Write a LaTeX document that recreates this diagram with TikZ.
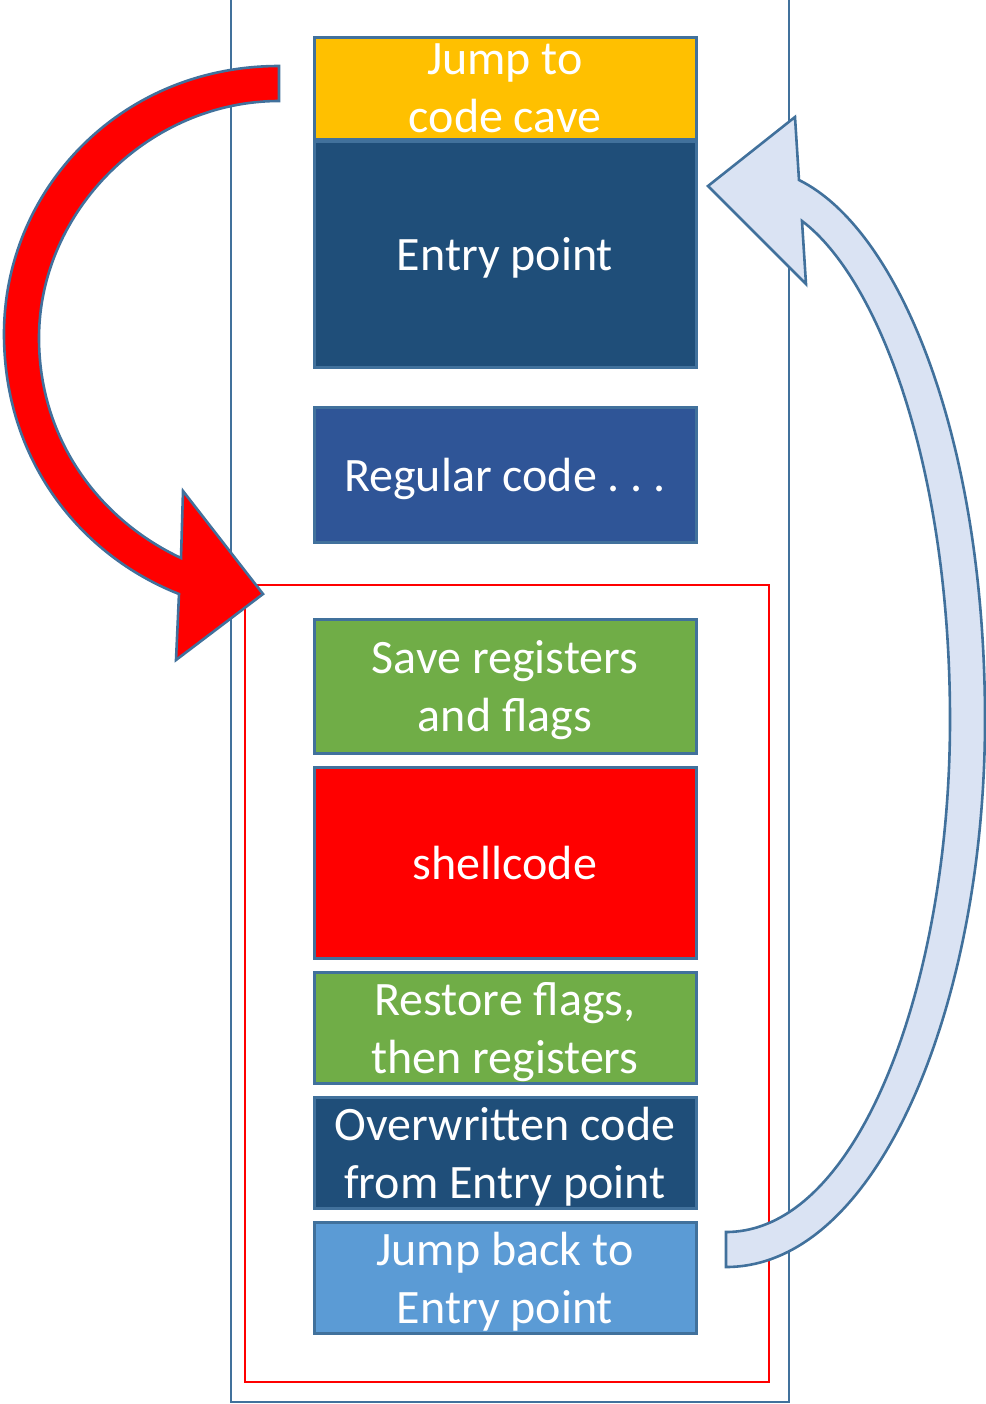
\documentclass[tikz,border=0pt]{standalone}
\usepackage{fontspec}
\setmainfont{Carlito}
\usepackage{xcolor}
\usepackage{tikz}
\usetikzlibrary{positioning,calc}
\definecolor{edgeblue}{HTML}{41719C}
\definecolor{caveorange}{HTML}{FFC000}
\definecolor{entryblue}{HTML}{1F4E79}
\definecolor{regblue}{HTML}{2F5597}
\definecolor{flaggreen}{HTML}{70AD47}
\definecolor{backblue}{HTML}{5B9BD5}
\definecolor{paleblue}{HTML}{DAE3F3}

\begin{document}
\begin{tikzpicture}[x=0.5pt,y=-0.5pt,
    block/.style={rectangle, draw=edgeblue, line width=1.5pt, minimum width=191pt, inner sep=0pt, align=center, text=white, text depth=0pt, font=\fontsize{24}{29}\selectfont},
    bigarrow/.style={draw=edgeblue, line width=1.3pt, line join=miter}]
    \useasboundingbox (0,0) rectangle (986,1404);

    % memory column and code cave
    \draw[edgeblue, line width=1pt] (231,0) -- (231,1402) -- (789,1402) -- (789,0);
    \draw[red, line width=1pt] (245,585) rectangle (769,1382);

    \node [block, fill=caveorange, minimum height=51pt] (cave) at (505,88) {Jump to\\code cave};
    \node [block, fill=entryblue, minimum height=113pt] (entry) at (505,254) {Entry point};
    \node [block, fill=regblue, minimum height=67.5pt] (regular) at (505,474.5) {Regular code .\ .\ .};
    \node [block, fill=flaggreen, minimum height=67pt] (save) at (505,686) {Save registers\\and flags};
    \node [block, fill=red, minimum height=95.5pt] (shell) at (505,862.5) {shellcode};
    \node [block, fill=flaggreen, minimum height=55.5pt] (restore) at (505,1027.5) {Restore flags,\\then registers};
    \node [block, fill=entryblue, minimum height=55.5pt] (overwritten) at (505,1152.5) {Overwritten code\\from Entry point};
    \node [block, fill=backblue, minimum height=55.5pt] (jumpback) at (505,1277.5) {Jump back to\\Entry point};

    % jump into the cave
    \coordinate (redtip) at (263,594);
    \draw [bigarrow, fill=red] (279,66) .. controls (120,66) and (4,190) .. (4,334)
        .. controls (4,460) and (80,555) .. (179,594)
        -- (176,660) -- (redtip) -- (183,491) -- (181,558)
        .. controls (100,520) and (39,440) .. (39,338)
        .. controls (39,210) and (150,101) .. (279,101) -- cycle;

    % jump back
    \coordinate (bluetip) at (708,186);
    \draw [bigarrow, fill=paleblue] (726,1232) .. controls (860,1232) and (950,980) .. (950,720)
        .. controls (950,470) and (880,280) .. (802,221)
        -- (806,284) -- (bluetip) -- (795,117) -- (799,180)
        .. controls (900,230) and (985,440) .. (985,720)
        .. controls (985,1000) and (880,1267) .. (726,1267) -- cycle;
\end{tikzpicture}
\end{document}
